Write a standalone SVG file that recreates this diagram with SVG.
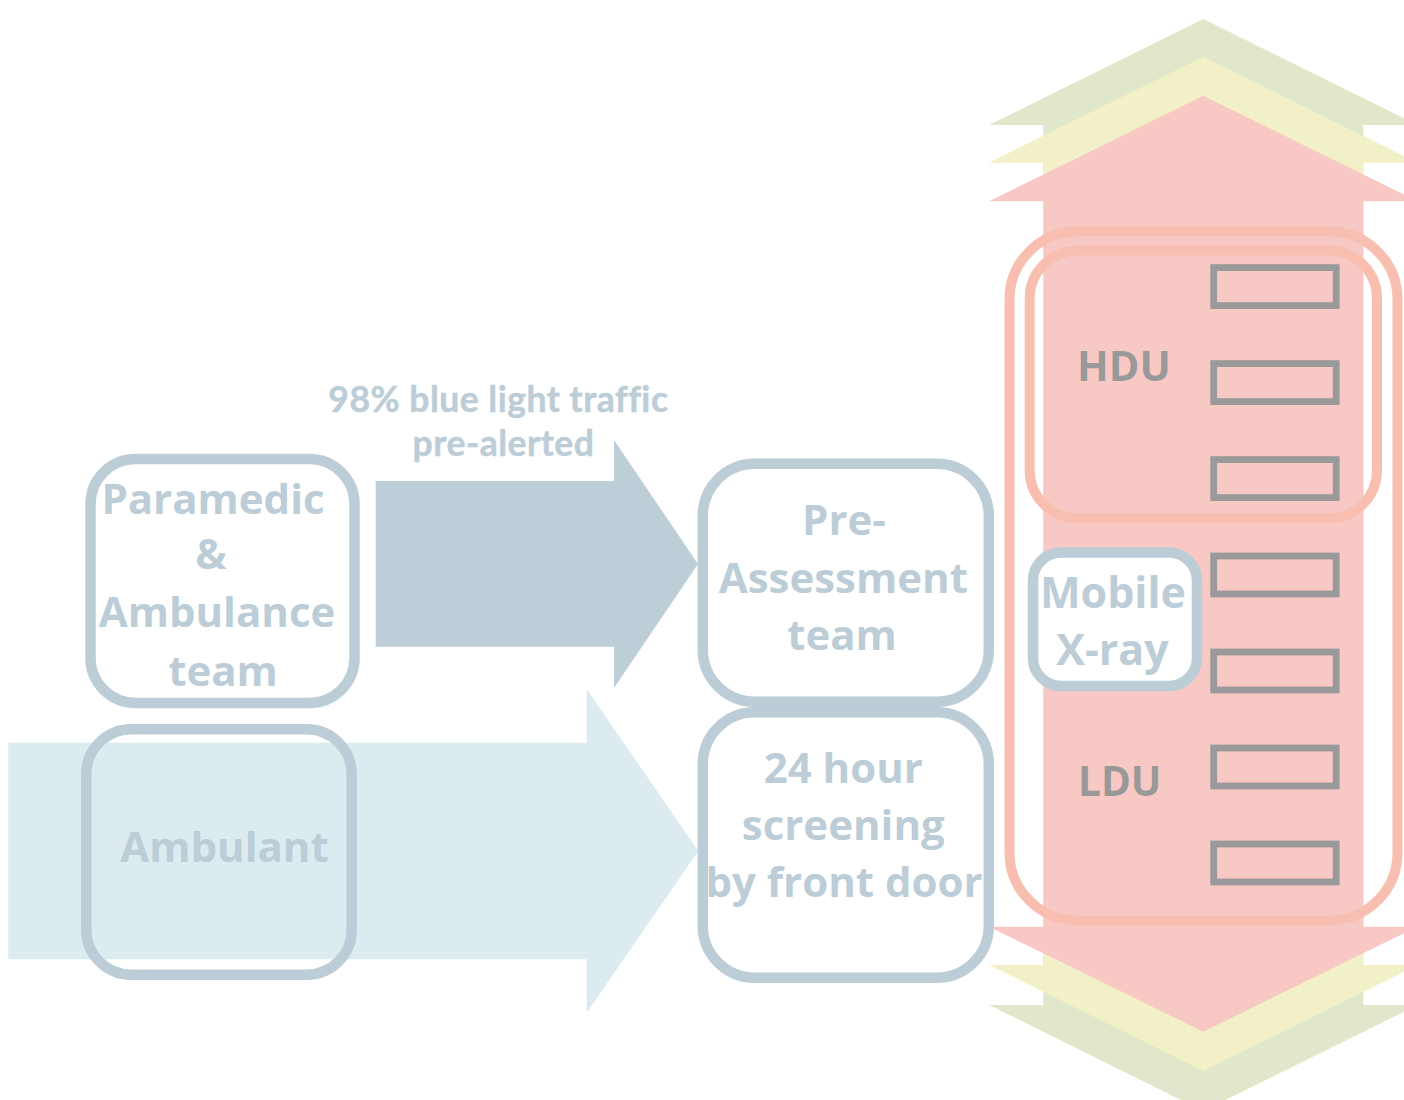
<svg xmlns="http://www.w3.org/2000/svg" width="1404" height="1100" viewBox="0 0 1404 1100">
<style>
.box{fill:#FFFFFF;stroke:#BCCDD7;stroke-width:10.5}
.nofill{fill:none}
.t{font-family:"Open Sans","Liberation Sans",sans-serif;font-weight:bold;fill:#BCCDD7;text-anchor:middle}
.unit{fill:none;stroke:#F8BFB1;stroke-width:10}
.bed{fill:none;stroke:#999999;stroke-width:6.8}
.g{font-family:"Open Sans","Liberation Sans",sans-serif;font-weight:bold;fill:#999999}
</style>
<rect width="1404" height="1100" fill="#FFFFFF"/>
<g id="connectors">
  <path id="bigarrow-green" fill="#E1E7CB" d="M1203.3,19 L1417.6,125 L1363.3,125 L1363.3,1005 L1417.6,1005 L1203.3,1111 L989,1005 L1043.3,1005 L1043.3,125 L989,125 Z"/>
  <path id="bigarrow-yellow" fill="#F2F0C6" d="M1203.3,56.7 L1417.6,162.7 L1363.3,162.7 L1363.3,965 L1417.6,965 L1203.3,1071 L989,965 L1043.3,965 L1043.3,162.7 L989,162.7 Z"/>
  <path id="bigarrow-red" fill="#F8C9C4" d="M1203.3,95.7 L1417.6,201.3 L1363.3,201.3 L1363.3,926.7 L1417.6,926.7 L1203.3,1031.7 L989,926.7 L1043.3,926.7 L1043.3,201.3 L989,201.3 Z"/>
  <path id="arrow-ambulant" fill="#DBEBF0" d="M8.3,742.7 L586.7,742.7 L586.7,689 L698.3,850.9 L586.7,1012.7 L586.7,959.3 L8.3,959.3 Z"/>
  <path id="arrow-bluelight" fill="#BDCED8" d="M375.7,481 L614,481 L614,440 L698,564 L614,688 L614,646.7 L375.7,646.7 Z"/>
  <text font-family="Lato,'Open Sans',sans-serif" font-weight="bold" font-size="35.5" fill="#BCCDD7" stroke="#BCCDD7" stroke-width="0.5" letter-spacing="0.5" text-anchor="middle">
    <tspan x="503" y="411.7">98% blue light traffic</tspan>
    <tspan x="503.5" y="456">pre-alerted</tspan>
  </text>
</g>
<g id="paramedic">
  <rect class="box" x="90.5" y="459" width="264" height="244" rx="45"/>
  <text class="t" font-size="42"><tspan x="213" y="514">Paramedic</tspan><tspan x="211" y="569.3">&amp;</tspan><tspan x="217" y="626.7">Ambulance</tspan><tspan x="223" y="686">team</tspan></text>
</g>
<g id="ambulant">
  <rect class="box nofill" x="86.2" y="729.2" width="265.5" height="245.5" rx="45"/>
  <text class="t" font-size="42" x="224.5" y="861.7">Ambulant</text>
</g>
<g id="pre-assessment">
  <rect class="box" x="702.8" y="463.7" width="286" height="238" rx="52"/>
  <text class="t" font-size="42"><tspan x="844" y="535">Pre-</tspan><tspan x="843.3" y="592.7">Assessment</tspan><tspan x="842" y="650">team</tspan></text>
</g>
<g id="screening">
  <rect class="box" x="702.8" y="712.3" width="286" height="265.4" rx="52"/>
  <text class="t" font-size="42"><tspan x="843.3" y="783.3">24 hour</tspan><tspan x="843.3" y="840">screening</tspan><tspan x="844" y="896.7">by front door</tspan></text>
</g>
<g id="ward">
  <rect class="unit" x="1009.5" y="231.5" width="388" height="689" rx="68"/>
</g>
<g id="hdu">
  <rect class="unit" x="1029.7" y="250.5" width="347.3" height="267.8" rx="48"/>
  <text class="g" font-size="41.5" x="1077" y="381.3">HDU</text>
</g>
<g id="ldu">
  <text class="g" font-size="40.5" x="1078" y="796">LDU</text>
</g>
<g id="beds">
  <rect class="bed" x="1213.7" y="267.6" width="122.5" height="38"/>
  <rect class="bed" x="1213.7" y="363.6" width="122.5" height="38"/>
  <rect class="bed" x="1213.7" y="459.6" width="122.5" height="38"/>
  <rect class="bed" x="1213.7" y="556" width="122.5" height="38"/>
  <rect class="bed" x="1213.7" y="652" width="122.5" height="38"/>
  <rect class="bed" x="1213.7" y="748" width="122.5" height="38"/>
  <rect class="bed" x="1213.7" y="844" width="122.5" height="38"/>
</g>
<g id="mobile-xray">
  <rect class="box" x="1033" y="552.5" width="164" height="133.5" rx="28"/>
  <text class="t" font-size="43"><tspan x="1113" y="608.3">Mobile</tspan><tspan x="1112.5" y="665">X-ray</tspan></text>
</g>
</svg>
